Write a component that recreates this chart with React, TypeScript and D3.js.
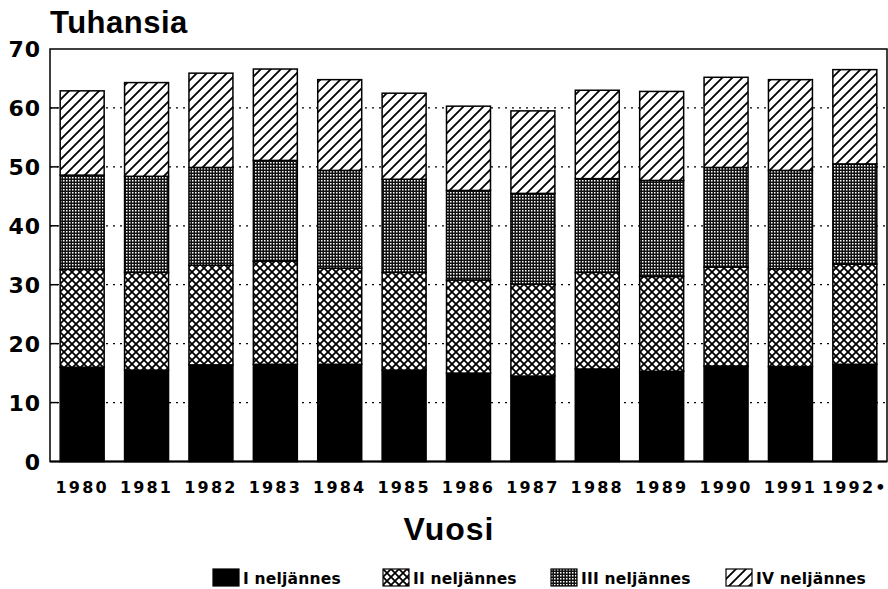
import React from 'react'
import * as d3 from 'd3'

const years = ['1980', '1981', '1982', '1983', '1984', '1985', '1986', '1987', '1988', '1989', '1990', '1991', '1992•']
const quarterNames = ['I neljännes', 'II neljännes', 'III neljännes', 'IV neljännes']

// thousands per quarter
const q1 = [16.0, 15.5, 16.4, 16.5, 16.5, 15.5, 15.0, 14.5, 15.7, 15.3, 16.2, 16.1, 16.5]
const q2 = [16.6, 16.6, 16.9, 17.5, 16.3, 16.6, 15.8, 15.6, 16.4, 16.1, 16.8, 16.6, 17.0]
const q3 = [16.0, 16.3, 16.6, 17.1, 16.6, 15.8, 15.2, 15.4, 15.9, 16.3, 16.9, 16.7, 17.0]
const q4 = [14.3, 15.9, 16.0, 15.5, 15.4, 14.6, 14.3, 14.0, 15.0, 15.1, 15.3, 15.4, 16.0]

const yTicks = [0, 10, 20, 30, 40, 50, 60, 70]

const W = 888
const H = 589
const left = 50
const right = 887
const top = 49
const bottom = 461.5

const fills = ['#000', 'url(#pat-cross)', 'url(#pat-fine)', 'url(#pat-diag)']
const legendX = [213, 383, 551, 726]

const numFont = '"DejaVu Sans", sans-serif'
const titleFont = '"Liberation Sans", Arial, sans-serif'

export default function App() {
  const rows = years.map((y, i) => ({ year: y, q1: q1[i], q2: q2[i], q3: q3[i], q4: q4[i] }))
  const stack = d3.stack<any>().keys(['q1', 'q2', 'q3', 'q4'])
  const series = stack(rows)

  const x = d3.scaleBand().domain(years).range([left, right]).paddingInner(0.317).paddingOuter(0.158)
  const y = d3.scaleLinear().domain([0, 70]).range([bottom, top])

  return (
    <svg width={W} height={H} style={{ position: 'absolute', left: 0, top: 0, background: '#fff' }}>
      <defs>
        <pattern id="pat-cross" width={8} height={8} patternUnits="userSpaceOnUse">
          <rect width={8} height={8} fill="#fff" />
          <path d="M0,0 L8,8 M0,8 L8,0" stroke="#000" strokeWidth={1.8} />
        </pattern>
        <pattern id="pat-fine" width={3} height={3} patternUnits="userSpaceOnUse">
          <rect width={3} height={3} fill="#111" />
          <rect width={1.5} height={1.5} fill="#fff" />
        </pattern>
        <pattern id="pat-diag" width={10} height={10} patternUnits="userSpaceOnUse">
          <rect width={10} height={10} fill="#fff" />
          <path d="M-2,2 L2,-2 M0,10 L10,0 M8,12 L12,8" stroke="#000" strokeWidth={1.8} />
        </pattern>
      </defs>

      {/* title */}
      <text x={50} y={33} fontFamily={titleFont} fontWeight="bold" fontSize={31} letterSpacing={0.5}>Tuhansia</text>

      {/* dotted grid */}
      {yTicks.filter(t => t > 0 && t < 70).map(t => (
        <line key={t} x1={left} x2={right} y1={y(t)} y2={y(t)} stroke="#000" strokeWidth={1.3} strokeDasharray="2,5" />
      ))}

      {/* bars */}
      {series.map((s, si) => (
        <g key={si}>
          {s.map((d, i) => (
            <rect key={i} x={x(years[i])} width={x.bandwidth()} y={y(d[1])} height={y(d[0]) - y(d[1])}
              fill={fills[si]} stroke="#000" strokeWidth={1.5} />
          ))}
        </g>
      ))}

      {/* frame */}
      <rect x={left} y={top} width={right - left} height={bottom - top} fill="none" stroke="#000" strokeWidth={1.5} />
      <line x1={left} x2={right} y1={bottom} y2={bottom} stroke="#000" strokeWidth={2} />

      {/* y axis */}
      {yTicks.map(t => (
        <g key={t}>
          {t > 0 && t < 70 && <line x1={left} x2={left + 8} y1={y(t)} y2={y(t)} stroke="#000" strokeWidth={1.5} />}
          <text x={41} y={y(t) + 8} textAnchor="end" fontFamily={numFont} fontWeight="bold" fontSize={22} letterSpacing={1}>{t}</text>
        </g>
      ))}

      {/* x axis labels */}
      {years.map(yr => (
        <text key={yr} x={x(yr)! + x.bandwidth() / 2} y={493} textAnchor="middle"
          fontFamily={numFont} fontWeight="bold" fontSize={16} letterSpacing={2.2}>{yr}</text>
      ))}

      <text x={449} y={540} textAnchor="middle" fontFamily={titleFont} fontWeight="bold" fontSize={32} letterSpacing={1}>Vuosi</text>

      {/* legend */}
      {quarterNames.map((n, i) => (
        <g key={n} transform={`translate(${legendX[i]},569)`}>
          <rect x={0} y={0} width={26} height={17} fill={fills[i]} stroke="#000" strokeWidth={1.2} />
          <text x={30} y={15} fontFamily={numFont} fontWeight="bold" fontSize={15.5} letterSpacing={0.2}>{n}</text>
        </g>
      ))}
    </svg>
  )
}
